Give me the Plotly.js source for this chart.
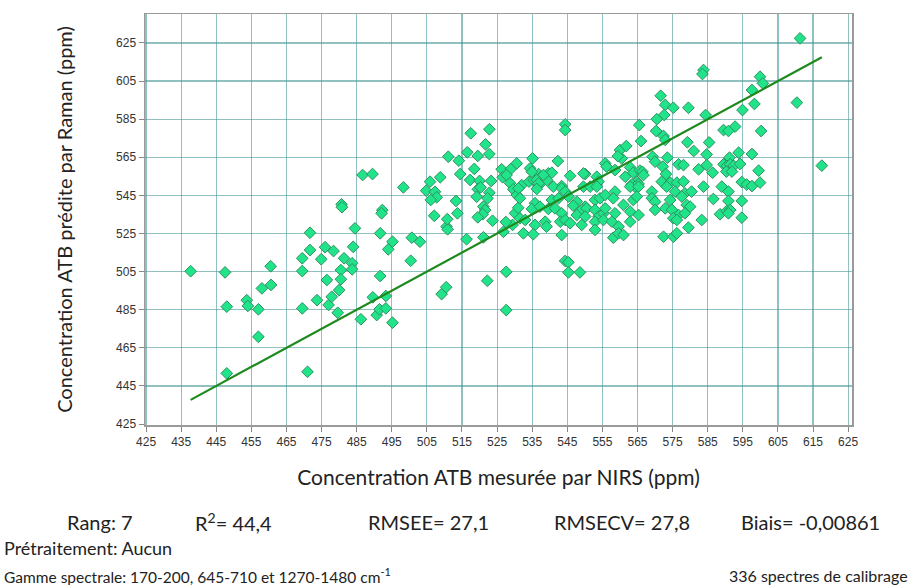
<!DOCTYPE html>
<html>
<head>
<meta charset="utf-8">
<script src="https://cdn.plot.ly/plotly-3.0.1.min.js"></script>
<style>html,body{margin:0;padding:0;background:#fff;}#chart{width:912px;height:585px;}</style>
</head>
<body>
<div id="chart"></div>
<script>
const ptsLowLeft = [
 [437.7,505.2],[447.5,504.6],[448,486.6],[448,451.6],[453.7,490],[454,487],[457,485.2],[457,470.8],
 [458,496.2],[460.6,498],[460.5,507.8],[469.5,505.3],[469.5,512],[469.5,485.7],[471,452.4],[471.7,516.3],
 [471.7,525.4],[473.7,490],[474.9,511.5],[476,517.8],[478.4,515.8],[476.5,500.6],[477,487.5],[477.9,491.8],
 [479.6,483.4],[480,495.3],[480.5,505.8],[480.5,501],[480.7,540.3],[480.8,538.8],[481.4,512]
];
const ptsMidUpper = [
 [484.5,527.7],[486.7,555.7],[489.5,556.2],[491.7,525.1],[492.3,537.3],[492.1,535.6],[498.3,549.2],[504.8,547.5],
 [505.9,552.2],[507.3,546.9],[507.8,544],[506.1,542.6],[508.8,554.5],[510.6,528.6],[510.9,527.2],[510.8,532.5],
 [507.1,534.3],[513.3,542.1],[513.7,535.6],[511.1,565.3],[514.1,563.2],[514.5,556.2],[516.5,567.6],[517.5,577.6],
 [519.5,565.7],[518.5,558.9],[521.7,571.8],[522.8,566.7],[522.8,579.7],[517.3,553.1],[520,552.6],[523.3,552.6],
 [519.5,548.2],[520.3,549.2],[522.8,546.4],[522.3,543.5],[519.2,544.3],[521.1,539.1],[521.6,537.3],[520.9,535.1],
 [519.5,533.5],[523.7,531.7],[516.3,522],[521.1,523],[526.3,558.7],[528.9,558.9],[530.6,561.8],[526.6,554.5],
 [527.7,555.7],[528.7,551.4],[529.6,548.2],[530.6,545.2],[530.1,535.6],[529.4,529.5],[526.8,525.9],[531,538.5],
 [527.5,531]
];
const ptsMidLower = [
 [484,518],[483.7,509.4],[483.7,506.2],[486.2,480],[489.6,491.5],[490.7,482.2],[491.5,485.2],[493.3,485.7],
 [493.3,492.2],[495.2,478.2],[491.7,502.7],[494,516.7],[495.2,520.7],[500.4,510.7],[500.7,522.8],[503,520.7],
 [509.2,493.2],[510.5,496.8],[522.2,500.2],[527.6,504.9],[527.6,484.8]
];
const ptsCoreUpper = [
 [535.1,564.4],[534.4,559.2],[536.8,556.2],[537.7,554.8],[539.6,556.6],[540.6,556.9],[542.3,563],[545.8,555.3],
 [550.1,556.2],[549.6,549.6],[553.4,554.8],[553.9,552.2],[555.8,561.8],[556.2,560.1],[558.6,558.3],[561.5,554.8],
 [562.9,559.7],[563.8,556.9],[565.7,558],[566.4,557.4],[564.8,552.2],[563.4,550.8],[565.3,551],[569.3,565.3],
 [570,562.7],[573.5,564.8],[572.2,560.1],[573.1,556.2],[576.7,561.3],[578.1,560.9],[571.9,552.2],[574.3,551.7],
 [576.2,551.7],[578.1,552.2],[532,550.4],[534.1,552.2],[535.4,553.1],[537.3,551],[539.2,553.1],[543.4,549.9],
 [560.5,564.4],[560,568.8],[561.8,570.9],[565.5,581.9],[566,573.5],[544.4,582.3],[544.4,579.3],[571.6,597.3],
 [572.9,592.5],[575.2,591],[579.5,591],[572.6,587.2],[570.5,585],[570.3,578.8],[572.4,576.2],[572.9,574.1],
 [579.2,572.9],[534.9,557.4],[538.2,555.7],[549.6,556.5],[559.4,565.6],[566.7,555.7],[564.3,549.5],[536.3,553.1],
 [536.8,551.3]
];
const ptsCoreLower = [
 [531.1,548.7],[536.3,548.4],[541,549.6],[543.4,548.7],[544.4,547],[551.5,549.6],[553.4,549.6],[558.6,547],
 [562.9,549.6],[565.3,549.6],[569.1,547],[573.3,549.6],[575.7,547],[578.5,546.1],[580.4,547],
 [531.5,543.5],[535.8,540.9],[540.6,542.6],[542.5,543.5],[545.3,544.4],[547.7,541.7],[550.1,539.1],[552.9,542.6],
 [554.3,543.5],[555.8,545.2],[558.1,543.5],[561,540],[563.8,542.6],[564.8,544.4],[569.1,543.5],[570,541.7],
 [574.3,542.6],[577.6,544.4],[579,540],[580,539.1],
 [534.9,537.9],[537.2,539.1],[539.6,537.9],[541.5,538.2],[543.4,535.6],[546.7,539.6],[549.1,537.4],[550.5,538.2],
 [547.7,534.7],[550.1,533.9],[552.9,537.4],[553.9,533.9],[555.3,535.6],[555.8,538.2],[558.6,535.6],[562.9,536.5],
 [565.3,534.7],[570,537.4],[572.9,538.2],[574.8,537.4],[576.7,534.7],[578.5,535.6],[575.2,533],[576.2,532.1],
 [531.5,533],[533,532.1],[535.8,529.5],[538.7,531.2],[539.1,528.6],[543,531.2],[544.4,532.1],[545.8,530.4],
 [549.1,529.5],[552.9,531.2],[555.3,532.1],[557.7,531.2],[559.6,528.6],[562.9,531.2],[579.5,528.1],
 [532.5,525.1],[535.3,524.6],[543.4,524.2],[552.9,526.9],[558.1,522.8],[559.6,525.1],[561,524.2],[572.4,523.3],
 [575.2,523.3],[576.2,525.1],
 [544.4,510.6],[545.3,509.9],[545.3,504.6],[548.6,504.6]
];
const ptsHighUpper = [
 [611.3,627.4],[583.8,610.8],[583.5,608.7],[599.9,607.3],[600.7,603.8],[597.6,600.3],[598.3,593],[594.9,589.8],
 [610.4,593.7],[584.4,587.2],[600.2,578.8],[592.8,581.1],[589.5,579.3],[590.9,578.8],[585.4,572.8],[581,568.3],
 [584.7,566.5],[593.8,567.4],[597.6,566.7],[591.2,564.8],[589.5,561.3],[590.5,560.5],[591.4,561.3],[592.4,560.5],
 [594.2,561.5],[590.3,557.5],[591.9,557.5],[582.4,558.7],[584.7,560.9],[586.4,556.9],[599.5,558],[594.7,552],
 [596.1,550.7],[597.6,549.9],[599.9,551.7],[589,549.6],[583.8,549.6],[617.5,560.6]
];
const ptsHighLower = [
 [590.9,547],[586.6,543.1],[590.9,542.1],[594.7,542.1],[588.5,535.1],[590.4,536.8],[591.4,537.3],[590.9,535.6],
 [594.7,533.3],[583.3,532.1]
];

const statLabels = ["Rang: 7", "R<sup>2</sup>= 44,4", "RMSEE= 27,1", "RMSECV= 27,8", "Biais= -0,00861"];
const xTitle = "Concentration ATB mesurée par NIRS (ppm)";
const yTitle = "Concentration ATB prédite par Raman (ppm)";
const noteLines = ["Prétraitement: Aucun", "Gamme spectrale: 170-200, 645-710 et 1270-1480 cm<sup>-1</sup>"];
const countNote = "336 spectres de calibrage";

const allPts = [].concat(ptsLowLeft, ptsMidUpper, ptsMidLower, ptsCoreUpper, ptsCoreLower, ptsHighUpper, ptsHighLower);
const nirs = allPts.map(p => p[0]);
const raman = allPts.map(p => p[1]);
const xMin = Math.min.apply(null, nirs), xMax = Math.max.apply(null, nirs);
const targetX = [xMin, xMax];
const targetY = [xMin, xMax]; // y = x target line

const textFont = "Lato, 'Open Sans', sans-serif";
const tickFont = {family: "'Liberation Sans Narrow', 'Arial Narrow', 'Liberation Sans', sans-serif", size: 12, color: "#333"};

const traces = [
  {x: nirs, y: raman, type: "scatter", mode: "markers", showlegend: false, hoverinfo: "x+y",
   marker: {symbol: "diamond", size: 9, color: "#21e38a", line: {color: "#2f9060", width: 1}}},
  {x: targetX, y: targetY, type: "scatter", mode: "lines", showlegend: false,
   line: {color: "#1e8a1e", width: 2.2}}
];

const statX = [-0.0636, 0.1245, 0.4003, 0.6747, 0.9406];
const annotations = statLabels.map((t, i) => ({
  text: t, xref: "paper", yref: "paper", x: statX[i], y: -0.236, xanchor: "center", yanchor: "middle",
  showarrow: false, font: {family: textFont, size: 20, color: "#222"}
}));
annotations.push({text: noteLines[0], xref: "paper", yref: "paper", x: -0.2023, y: -0.299, xanchor: "left", yanchor: "middle",
  showarrow: false, font: {family: textFont, size: 18, color: "#222"}});
annotations.push({text: noteLines[1], xref: "paper", yref: "paper", x: -0.2023, y: -0.365, xanchor: "left", yanchor: "middle",
  showarrow: false, font: {family: textFont, size: 15.5, color: "#222"}});
annotations.push({text: countNote, xref: "paper", yref: "paper", x: 1.082, y: -0.365, xanchor: "right", yanchor: "middle",
  showarrow: false, font: {family: textFont, size: 16, color: "#222"}});

const axisCommon = {
  showline: true, mirror: true, linecolor: "#9a9a9a", linewidth: 1.5,
  ticks: "outside", ticklen: 5, tickcolor: "#888", tickwidth: 1,
  showgrid: true, gridcolor: "rgba(70,150,150,0.6)", gridwidth: 1.2,
  zeroline: false, tickfont: tickFont
};

const layout = {
  width: 912, height: 585,
  margin: {l: 145, r: 60, t: 14, b: 160},
  paper_bgcolor: "#fff", plot_bgcolor: "#fff",
  xaxis: Object.assign({}, axisCommon, {
    range: [424.7, 626.1], tick0: 425, dtick: 10,
    title: {text: xTitle, standoff: 22, font: {family: textFont, size: 21, color: "#222"}}
  }),
  yaxis: Object.assign({}, axisCommon, {
    range: [424.5, 640.2], tick0: 425, dtick: 20,
    title: {text: yTitle, standoff: 38, font: {family: textFont, size: 20, color: "#222"}}
  }),
  annotations: annotations
};

Plotly.newPlot("chart", traces, layout, {displayModeBar: false, staticPlot: true});
</script>
</body>
</html>
